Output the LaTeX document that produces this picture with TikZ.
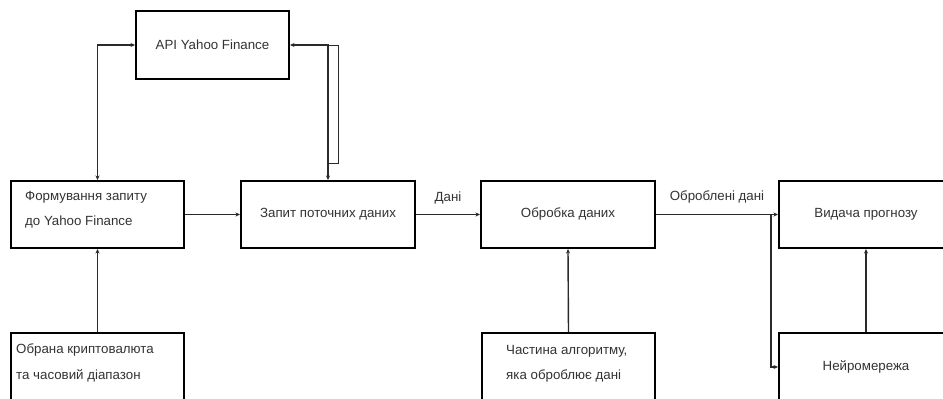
\documentclass[tikz,border=0pt]{standalone}
\usepackage{fontspec}
\setmainfont{Liberation Sans}
\usetikzlibrary{arrows.meta}
\definecolor{txt}{HTML}{333333}
\definecolor{ln}{HTML}{2A2A2A}
\tikzset{
  box/.style={draw=black, line width=2pt, rectangle, inner sep=0pt, text=txt,
    font=\fontsize{13.3}{16}\selectfont},
  lbl/.style={inner sep=0pt, text=txt, font=\fontsize{13.3}{16}\selectfont},
  conn/.style={draw=ln, line width=1.4pt},
  tip/.style={-{Stealth[length=4.5pt,width=4pt]}},
}
\begin{document}
\begin{tikzpicture}[x=1pt,y=-1pt]
\useasboundingbox (0,0) rectangle (943,399);
\clip (0,0) rectangle (943,399);
\fill[white] (0,0) rectangle (943,399);
% boxes
\node[box, minimum width=153pt, minimum height=68pt] (api) at (212.5,45) {API Yahoo Finance};
\node[box, minimum width=173pt, minimum height=67pt] (form) at (97.5,214.5) {};
\node[lbl, anchor=west] (form1) at (25,197) {Формування запиту};
\node[lbl, anchor=west] (form2) at (25,222) {до Yahoo Finance};
\node[box, minimum width=174pt, minimum height=67pt] (query) at (328,214.5) {Запит поточних даних};
\node[box, minimum width=174pt, minimum height=67pt] (proc) at (568,214.5) {Обробка даних};
\node[box, minimum width=174pt, minimum height=67pt] (vid) at (866,214.5) {Видача прогнозу};
\node[box, minimum width=173pt, minimum height=80pt] (chosen) at (97.5,373) {};
\node[lbl, anchor=west] (chosen1) at (16,350) {Обрана криптовалюта};
\node[lbl, anchor=west] (chosen2) at (16,376) {та часовий діапазон};
\node[box, minimum width=173pt, minimum height=80pt] (part) at (568.5,373) {};
\node[lbl, anchor=west] (part1) at (506,351) {Частина алгоритму,};
\node[lbl, anchor=west] (part2) at (506,376) {яка оброблює дані};
\node[box, minimum width=174pt, minimum height=80pt] (neuro) at (866,373) {};
\node[lbl] (neuro1) at (866,367) {Нейромережа};
% connectors
\draw[conn, {Stealth[length=4.5pt,width=4pt]}-{Stealth[length=4.5pt,width=4pt]}] (api.west) -| (form.north);
\draw[conn, {Stealth[length=4.5pt,width=4pt]}-{Stealth[length=4.5pt,width=4pt]}] (api.east) -| (query.north);
\coordinate (dbl1) at (338,45);
\coordinate (dbl2) at (338,163);
\coordinate (dbl0) at (query.north |- dbl1);
\coordinate (dbl3) at (query.north |- dbl2);
\draw[draw=ln, line width=0.8pt] (dbl0) -- (dbl1) -- (dbl2) -- (dbl3);
\draw[conn, tip] (chosen.north) -- (form.south);
\draw[conn, tip] (form.east) -- (query.west);
\draw[conn, tip] (query.east) -- node[lbl, above=10pt] (lab1) {Дані} (proc.west);
\draw[conn, tip] (proc.east) -- (vid.west);
\node[lbl] (lab2) at (717,197) {Оброблені дані};
\coordinate (br) at (771,214.5);
\draw[conn, tip] (br) |- (neuro.west |- neuro1);
\draw[conn, tip] (part.north) -- (proc.south);
\draw[conn, tip] (neuro.north) -- (vid.south);
\end{tikzpicture}
\end{document}
